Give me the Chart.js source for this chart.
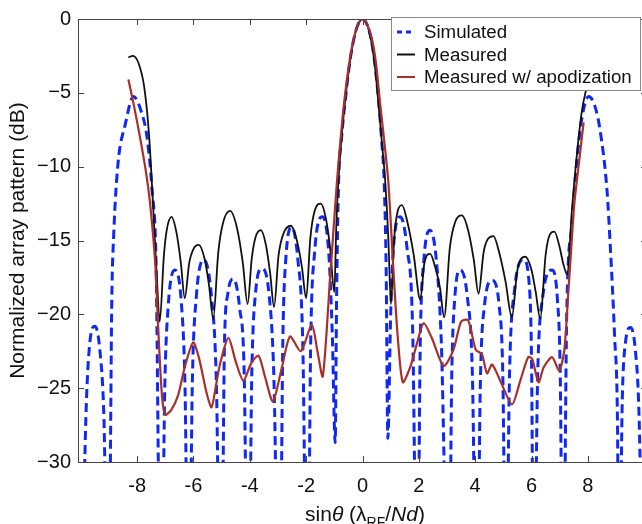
<!DOCTYPE html>
<html>
<head>
<meta charset="utf-8">
<script src="https://cdn.jsdelivr.net/npm/chart.js@4.4.1/dist/chart.umd.min.js"></script>
<style>
html, body { margin: 0; padding: 0; background: #fff; overflow: hidden; }
#wrap { width: 647px; height: 524px; }
</style>
</head>
<body>
<div id="wrap"><canvas id="chart" width="647" height="524"></canvas></div>
<script>
// Series names as in the legend
const seriesNames = ['Simulated', 'Measured', 'Measured w/ apodization'];

// Simulated pattern (blue dashed)
const simX = [-9.95, -9.82, -9.7, -9.5, -9.32, -9.18, -9.06,
  -9.0, -8.9, -8.83, -8.68, -8.43, -8.13, -7.85, -7.65, -7.47, -7.33, -7.18,
  -7.12, -7.02, -6.9, -6.66, -6.42, -6.3, -6.2,
  -6.14, -6.04, -5.9, -5.64, -5.36, -5.19, -5.06,
  -5.0, -4.9, -4.78, -4.58, -4.36, -4.2, -4.09,
  -4.03, -3.93, -3.8, -3.57, -3.32, -3.15, -2.99,
  -2.92, -2.83, -2.72, -2.51, -2.3, -2.12, -1.99,
  -1.93, -1.84, -1.7, -1.42, -1.2, -1.07, -0.97,
  -0.92, -0.85, -0.75, -0.6, -0.45, -0.3, -0.15, 0, 0.15, 0.3, 0.43, 0.56, 0.68, 0.77, 0.84, 0.9,
  1.0, 1.1, 1.34, 1.58, 1.78, 1.92,
  1.96, 2.05, 2.18, 2.4, 2.62, 2.8, 3.02,
  3.08, 3.17, 3.28, 3.47, 3.72, 3.9, 4.03,
  4.09, 4.18, 4.33, 4.6, 4.85, 4.98, 5.08,
  5.11, 5.22, 5.4, 5.72, 5.92, 6.0, 6.07,
  6.1, 6.22, 6.4, 6.73, 6.92, 7.02, 7.1,
  7.14, 7.25, 7.44, 7.6, 7.79, 8.03, 8.25, 8.44, 8.68, 8.8, 8.95, 9.05, 9.1,
  9.13, 9.22, 9.33, 9.51, 9.68, 9.82, 9.93];
const simY = [-38, -27, -22.3, -20.8, -22.5, -27, -38,
  -38, -19, -14.5, -9.8, -7.2, -5.25, -6.3, -8.0, -11.6, -16.5, -38,
  -38, -25, -19.5, -17.0, -19.5, -25, -38,
  -38, -24.5, -18.8, -16.3, -18.8, -24.5, -38,
  -38, -22, -18.6, -17.6, -19.6, -24, -38,
  -38, -24, -18.6, -16.9, -18.6, -24, -38,
  -38, -22, -16.2, -14.1, -16.2, -22, -38,
  -38, -22, -15.8, -13.4, -15.8, -21.5, -28.7,
  -19, -11.1, -8.2, -5.3, -2.9, -1.3, -0.33, 0, -0.33, -1.3, -2.9, -5.3, -8.2, -11.1, -17, -28.4,
  -20, -15.5, -13.4, -15.5, -21, -38,
  -38, -22, -16.3, -14.3, -16.3, -22, -38,
  -38, -24, -18.8, -17.0, -18.8, -24, -38,
  -38, -25, -19.4, -17.7, -19.4, -24, -38,
  -38, -24, -18.3, -16.3, -18.0, -23, -38,
  -38, -24, -18.8, -17.0, -19.0, -24, -38,
  -38, -20, -13.8, -9.8, -6.7, -5.25, -5.9, -7.6, -11.6, -15.5, -21.5, -27, -38,
  -38, -26, -22, -20.9, -22.3, -27, -38];

// Measured pattern (black)
const measX = [-8.31, -8.15, -7.95, -7.75, -7.58, -7.43, -7.3, -7.2, -7.05, -6.95, -6.78, -6.6, -6.45, -6.31,
  -6.15, -5.98, -5.81, -5.6, -5.45, -5.3, -5.12, -4.95, -4.7, -4.45, -4.25, -4.08,
  -3.93, -3.8, -3.61, -3.43, -3.28, -3.14, -2.98, -2.8, -2.54, -2.33, -2.15, -2.0,
  -1.85, -1.7, -1.48, -1.3, -1.15, -1.0, -0.93, -0.86, -0.76, -0.62, -0.46, -0.3, -0.15, 0,
  0.15, 0.29, 0.43, 0.57, 0.7, 0.81, 0.92, 1.01,
  1.12, 1.25, 1.4, 1.6, 1.82, 2.05, 2.2, 2.4, 2.58, 2.75, 2.9, 3.1, 3.3, 3.53, 3.75, 3.95, 4.12,
  4.3, 4.45, 4.65, 4.85, 5.08, 5.3, 5.5, 5.78, 6.0, 6.15, 6.31, 6.5, 6.65, 6.81, 6.98, 7.12, 7.26,
  7.44, 7.62, 7.79, 7.95, 8.1];
const measY = [-2.6, -2.5, -3.0, -4.6, -7.8, -12.8, -17.5, -20.5, -16.0, -14.3, -13.4, -14.5, -16.5, -18.9,
  -16.5, -15.5, -15.3, -16.3, -18.0, -20.3, -15.8, -13.8, -13.0, -14.2, -16.5, -19.3,
  -16.2, -14.8, -14.3, -15.3, -17.2, -19.5, -16.0, -14.5, -14.0, -15.0, -16.8, -18.9,
  -14.8, -13.0, -12.5, -13.5, -15.5, -18.5, -14.0, -11.1, -8.4, -5.6, -3.1, -1.3, -0.33, 0,
  -0.33, -1.3, -3.0, -5.8, -8.6, -11.1, -15.0, -19.3,
  -15.0, -13.0, -12.6, -13.8, -16.0, -19.0, -16.5, -15.9, -16.8, -18.2, -20.2, -15.5, -13.7, -13.3, -14.3, -16.3, -18.6,
  -15.8, -14.9, -14.7, -15.8, -17.8, -20.2, -17.0, -16.1, -17.0, -18.5, -20.3, -16.0, -14.6, -14.4, -15.3, -16.5, -17.3,
  -12.8, -9.0, -6.2, -4.7, -3.5];

// Measured with apodization (dark red)
const apoX = [-8.31, -8.1, -7.9, -7.7, -7.54, -7.36, -7.25, -7.12, -7.0, -6.8, -6.55, -6.3, -6.01, -5.8, -5.55, -5.36,
  -5.2, -5.05, -4.76, -4.5, -4.23, -3.95, -3.69, -3.45, -3.18, -2.85, -2.57, -2.19, -1.8, -1.6, -1.41,
  -1.15, -0.91, -0.8, -0.66, -0.48, -0.31, -0.15, 0, 0.16, 0.33, 0.48, 0.63, 0.78, 0.92, 1.1, 1.25, 1.43,
  1.69, 1.93, 2.17, 2.46, 2.88,
  3.23, 3.5, 3.75, 4.02, 4.24, 4.42, 4.6, 4.89, 5.31, 5.6, 5.88, 6.02, 6.25, 6.43, 6.73, 6.98, 7.16,
  7.3, 7.4, 7.52, 7.65, 7.85];
const apoY = [-4.1, -6.0, -8.0, -10.2, -12.5, -16.5, -21.0, -25.5, -26.8, -26.5, -25.5, -23.5, -21.9, -23.0, -25.2, -26.3,
  -24.8, -23.3, -21.6, -23.2, -24.5, -23.3, -22.8, -24.3, -25.9, -23.5, -21.5, -22.5, -20.7, -22.5, -24.2,
  -17.5, -11.1, -8.6, -5.8, -3.1, -1.3, -0.33, 0, -0.33, -1.3, -3.0, -5.8, -8.4, -11.1, -17.1, -21.5, -24.6,
  -23.6, -22.0, -20.6, -21.6, -23.5,
  -22.4, -20.5, -20.4, -22.4, -22.7, -24.0, -23.4, -24.5, -26.1, -24.5, -22.9, -23.0, -24.6, -23.6, -22.9, -23.8, -22.5,
  -18.7, -15.8, -12.5, -10.3, -7.0];

// Tick labels
const xTicks = [-8, -6, -4, -2, 0, 2, 4, 6, 8];
const yTicks = [0, -5, -10, -15, -20, -25, -30];

const FONT = '"Liberation Sans", Arial, Helvetica, sans-serif';
const colors = ['#0f28f5', '#111111', '#a8302a'];

function pts(xs, ys) { return xs.map((x, i) => ({x: x, y: ys[i]})); }

// Frame, inward tick marks, legend box and axis titles
const framePlugin = {
  id: 'frame',
  afterDraw(chart) {
    const ctx = chart.ctx, a = chart.chartArea;
    const sx = chart.scales.x, sy = chart.scales.y;
    ctx.save();
    ctx.strokeStyle = '#444';
    ctx.lineWidth = 1;
    ctx.beginPath();
    ctx.moveTo(a.left + 0.5, a.top); ctx.lineTo(a.left + 0.5, a.bottom);
    ctx.moveTo(a.left, a.bottom + 0.5); ctx.lineTo(a.right, a.bottom + 0.5);
    ctx.moveTo(a.left, a.top + 0.5); ctx.lineTo(a.right, a.top + 0.5);
    xTicks.forEach(v => {
      const px = Math.round(sx.getPixelForValue(v)) + 0.5;
      ctx.moveTo(px, a.bottom); ctx.lineTo(px, a.bottom - 6);
      ctx.moveTo(px, a.top); ctx.lineTo(px, a.top + 6);
    });
    yTicks.forEach(v => {
      const py = Math.round(sy.getPixelForValue(v)) + 0.5;
      ctx.moveTo(a.left, py); ctx.lineTo(a.left + 6, py);
      ctx.moveTo(a.right, py); ctx.lineTo(a.right - 6, py);
    });
    ctx.stroke();

    // legend
    const lx = 391, ly = 17, lw = 249, lh = 73;
    ctx.fillStyle = '#fff';
    ctx.fillRect(lx, ly, lw, lh);
    ctx.strokeStyle = '#8a8a8a';
    ctx.strokeRect(lx + 0.5, ly + 0.5, lw, lh);
    const rows = [32, 54.5, 77];
    ctx.font = '18.7px ' + FONT;
    ctx.textBaseline = 'middle';
    ctx.textAlign = 'left';
    seriesNames.forEach((name, i) => {
      ctx.beginPath();
      ctx.strokeStyle = colors[i];
      ctx.lineWidth = i === 0 ? 3 : 2;
      ctx.setLineDash(i === 0 ? [5, 4] : []);
      ctx.moveTo(397, rows[i]); ctx.lineTo(415, rows[i]);
      ctx.stroke();
      ctx.setLineDash([]);
      ctx.fillStyle = '#111';
      ctx.fillText(name, 424, rows[i] + 1);
    });

    // y axis title
    ctx.save();
    ctx.translate(18, (a.top + a.bottom) / 2);
    ctx.rotate(-Math.PI / 2);
    ctx.font = '21px ' + FONT;
    ctx.textAlign = 'center';
    ctx.textBaseline = 'middle';
    ctx.fillStyle = '#111';
    ctx.fillText('Normalized array pattern (dB)', 0, 0);
    ctx.restore();

    // x axis title with italics and subscript
    const parts = [
      {t: 'sin', f: '21px ' + FONT, dy: 0},
      {t: 'θ', f: 'italic 21px ' + FONT, dy: 0},
      {t: ' (λ', f: '21px ' + FONT, dy: 0},
      {t: 'RF', f: '14px ' + FONT, dy: 6},
      {t: '/', f: '21px ' + FONT, dy: 0},
      {t: 'Nd', f: 'italic 21px ' + FONT, dy: 0},
      {t: ')', f: '21px ' + FONT, dy: 0}
    ];
    let total = 0;
    parts.forEach(p => { ctx.font = p.f; p.w = ctx.measureText(p.t).width; total += p.w; });
    let cx = 365 - total / 2;
    ctx.textAlign = 'left';
    ctx.textBaseline = 'alphabetic';
    ctx.fillStyle = '#111';
    parts.forEach(p => { ctx.font = p.f; ctx.fillText(p.t, cx, 521 + p.dy); cx += p.w; });
    ctx.restore();
  }
};

new Chart(document.getElementById('chart').getContext('2d'), {
  type: 'line',
  data: {
    datasets: [
      {label: seriesNames[0], data: pts(simX, simY), borderColor: colors[0], borderWidth: 3,
       borderDash: [9, 5], pointRadius: 0, fill: false, cubicInterpolationMode: 'monotone', order: 3},
      {label: seriesNames[1], data: pts(measX, measY), borderColor: colors[1], borderWidth: 1.8,
       pointRadius: 0, fill: false, cubicInterpolationMode: 'monotone', order: 2},
      {label: seriesNames[2], data: pts(apoX, apoY), borderColor: colors[2], borderWidth: 2.2,
       pointRadius: 0, fill: false, tension: 0.25, order: 1}
    ]
  },
  options: {
    responsive: false,
    animation: false,
    layout: {padding: {top: 13, right: 0, left: 0, bottom: 0}},
    plugins: {legend: {display: false}, tooltip: {enabled: false}},
    scales: {
      x: {
        type: 'linear', min: -10.1, max: 10.1,
        grid: {display: false, drawTicks: false}, border: {display: false},
        afterBuildTicks: s => { s.ticks = xTicks.map(v => ({value: v})); },
        afterFit: s => { s.height = 62; },
        ticks: {font: {family: FONT, size: 20}, color: '#111', padding: 12, maxRotation: 0, autoSkip: false,
                callback: v => String(v)}
      },
      y: {
        type: 'linear', min: -30, max: 0,
        grid: {display: false, drawTicks: false}, border: {display: false},
        afterBuildTicks: s => { s.ticks = yTicks.map(v => ({value: v})); },
        afterFit: s => { s.width = 78; },
        ticks: {font: {family: FONT, size: 20}, color: '#111', padding: 7, autoSkip: false,
                callback: v => v === 0 ? '0' : '\u2212' + Math.abs(v)}
      }
    }
  },
  plugins: [framePlugin]
});
</script>
</body>
</html>
